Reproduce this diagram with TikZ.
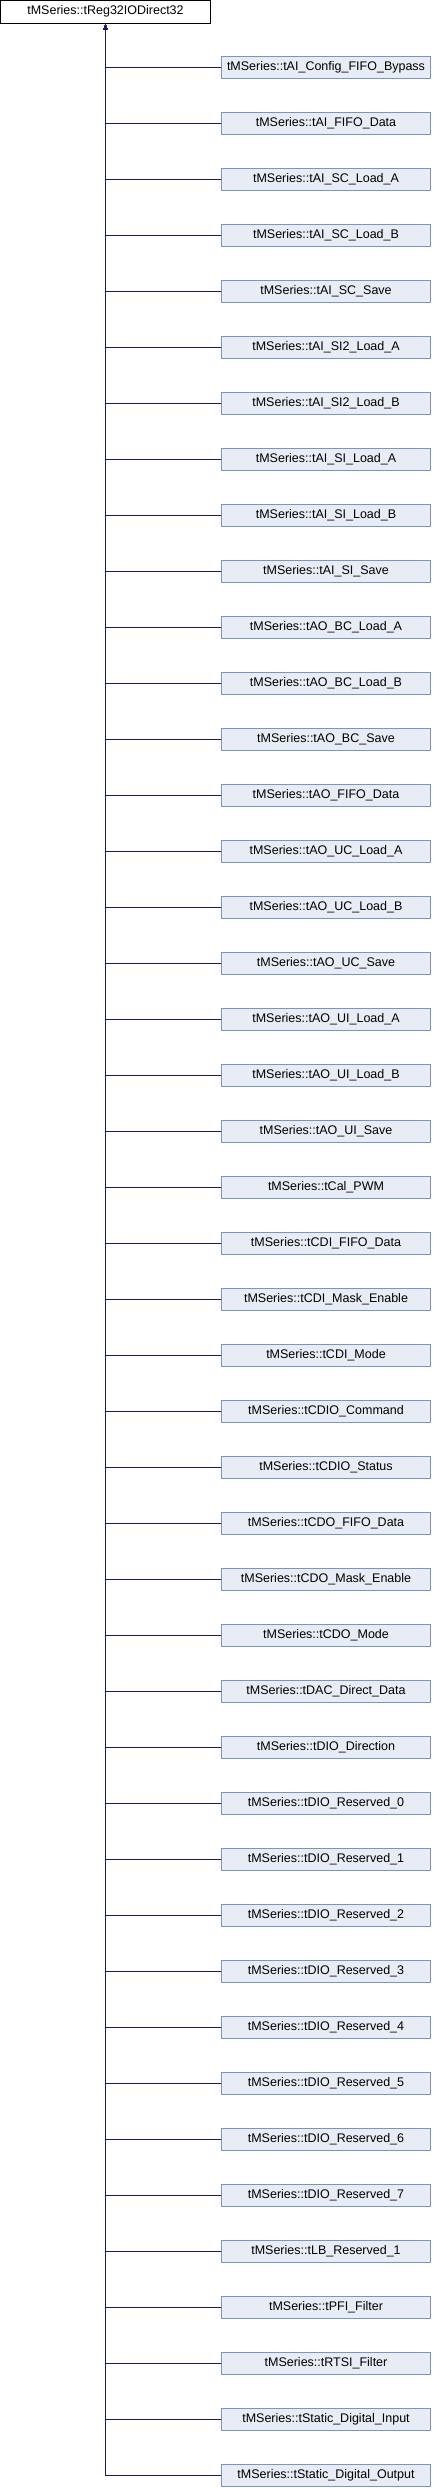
\documentclass[tikz,border=0pt]{standalone}
\usepackage{fontspec}
\setmainfont{Liberation Sans}
\usetikzlibrary{arrows.meta}

\definecolor{edgeblue}{HTML}{191970}
\definecolor{boxfill}{HTML}{E8ECF5}
\definecolor{boxline}{HTML}{7A93C8}

\begin{document}
\begin{tikzpicture}[x=1pt,y=-1pt,
    base/.style={draw=black,fill=white,line width=0.9pt,minimum width=210pt,minimum height=23pt,inner sep=0pt,font=\fontsize{12.5}{14}\selectfont},
    derived/.style={draw=boxline,fill=boxfill,line width=0.9pt,minimum width=209pt,minimum height=22.5pt,inner sep=0pt,font=\fontsize{12.5}{14}\selectfont},
    inherit/.style={draw=edgeblue,line width=0.9pt,{Latex[length=6.5pt,width=4.5pt]}-}]
  \useasboundingbox (0,0) rectangle (432,2488);
  \node[base] (reg) at (105.5,11.5) {tMSeries::tReg32IODirect32};

  \foreach \name [count=\i] in {tAI\_Config\_FIFO\_Bypass, tAI\_FIFO\_Data, tAI\_SC\_Load\_A, tAI\_SC\_Load\_B, tAI\_SC\_Save,
      tAI\_SI2\_Load\_A, tAI\_SI2\_Load\_B, tAI\_SI\_Load\_A, tAI\_SI\_Load\_B, tAI\_SI\_Save,
      tAO\_BC\_Load\_A, tAO\_BC\_Load\_B, tAO\_BC\_Save, tAO\_FIFO\_Data, tAO\_UC\_Load\_A,
      tAO\_UC\_Load\_B, tAO\_UC\_Save, tAO\_UI\_Load\_A, tAO\_UI\_Load\_B, tAO\_UI\_Save,
      tCal\_PWM, tCDI\_FIFO\_Data, tCDI\_Mask\_Enable, tCDI\_Mode, tCDIO\_Command,
      tCDIO\_Status, tCDO\_FIFO\_Data, tCDO\_Mask\_Enable, tCDO\_Mode, tDAC\_Direct\_Data,
      tDIO\_Direction, tDIO\_Reserved\_0, tDIO\_Reserved\_1, tDIO\_Reserved\_2, tDIO\_Reserved\_3,
      tDIO\_Reserved\_4, tDIO\_Reserved\_5, tDIO\_Reserved\_6, tDIO\_Reserved\_7, tLB\_Reserved\_1,
      tPFI\_Filter, tRTSI\_Filter, tStatic\_Digital\_Input, tStatic\_Digital\_Output}
  {
    \node[derived] (c\i) at (326,{67.5+56*(\i-1)}) {tMSeries::\name};
    \draw[inherit] (reg.south) |- (c\i.west);
  }
\end{tikzpicture}
\end{document}
